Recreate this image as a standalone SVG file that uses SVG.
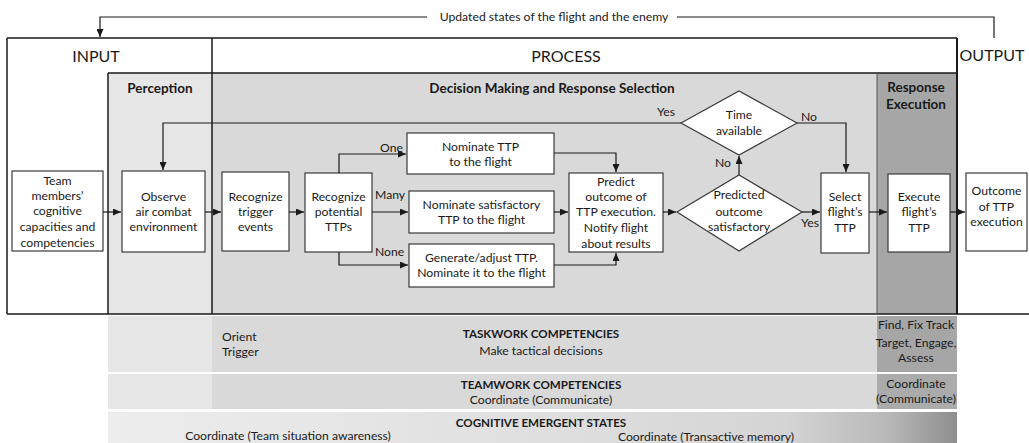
<svg xmlns="http://www.w3.org/2000/svg" width="1029" height="443" viewBox="0 0 1029 443">
<style>
text{font-family:Lato,"Liberation Sans",sans-serif;fill:#1a1a1a}
.t{font-size:12.2px;text-anchor:middle}
.l{font-size:12.2px}
.h{font-size:16px;text-anchor:middle}
.b{font-size:13.5px;font-weight:bold;text-anchor:middle}
.bs{font-size:11.6px;font-weight:bold;text-anchor:middle}
.box{fill:#fff;stroke:#3a3a3a;stroke-width:1.2}
.frame{fill:none;stroke:#1a1a1a;stroke-width:1.5}
.c{fill:none;stroke:#1a1a1a;stroke-width:1.2;marker-end:url(#ah)}
.cn{fill:none;stroke:#1a1a1a;stroke-width:1.2}
</style>
<defs>
<marker id="ah" markerUnits="userSpaceOnUse" markerWidth="8" markerHeight="7" refX="8" refY="3.5" orient="auto">
<path d="M0,0 L8,3.5 L0,7 z" fill="#1a1a1a"/>
</marker>
<linearGradient id="g3" x1="108" y1="0" x2="957" y2="0" gradientUnits="userSpaceOnUse">
<stop offset="0" stop-color="#ededed"/>
<stop offset="0.55" stop-color="#dedede"/>
<stop offset="0.8" stop-color="#d4d4d4"/>
<stop offset="0.92" stop-color="#b8b8b8"/>
<stop offset="1" stop-color="#8e8e8e"/>
</linearGradient>
</defs>

<g id="background">
<rect x="108" y="73" width="104" height="241" fill="#e6e6e6"/>
<rect x="212" y="73" width="665" height="241" fill="#d9d9d9"/>
<rect x="877" y="73" width="80" height="241" fill="#a6a6a6"/>
<path class="frame" d="M7,38 H957 M7,38 V314 M7,314 H1029 M212,38 V314 M108,73 H957 M108,73 V314"/>
<path fill="none" stroke="#1a1a1a" stroke-width="2" d="M957,38 V314"/>
<path fill="none" stroke="#555" stroke-width="1" d="M877,73 V314"/>
<text class="h" x="96" y="62">INPUT</text>
<text class="h" x="566" y="62">PROCESS</text>
<text class="h" x="992" y="61">OUTPUT</text>
<text class="b" x="160" y="93">Perception</text>
<text class="b" x="552" y="93">Decision Making and Response Selection</text>
<text class="b" x="916" y="92">Response</text>
<text class="b" x="916" y="109">Execution</text>
</g>

<g id="bands">
<rect x="108" y="316" width="104" height="56" fill="#e6e6e6"/>
<rect x="212" y="316" width="665" height="56" fill="#d9d9d9"/>
<rect x="877" y="316" width="80" height="56" fill="#a6a6a6"/>
<rect x="108" y="374" width="104" height="35" fill="#e6e6e6"/>
<rect x="212" y="374" width="665" height="35" fill="#d9d9d9"/>
<rect x="877" y="374" width="80" height="35" fill="#ababab"/>
<rect x="108" y="412" width="849" height="31" fill="url(#g3)"/>
<text class="l" x="222" y="341">Orient</text>
<text class="l" x="222" y="356">Trigger</text>
<text class="bs" x="541" y="338">TASKWORK COMPETENCIES</text>
<text class="t" x="541" y="355">Make tactical decisions</text>
<text class="t" x="916" y="329">Find, Fix Track</text>
<text class="t" x="916" y="347">Target, Engage,</text>
<text class="t" x="916" y="362">Assess</text>
<text class="bs" x="541" y="389">TEAMWORK COMPETENCIES</text>
<text class="t" x="541" y="404">Coordinate (Communicate)</text>
<text class="t" x="916" y="388">Coordinate</text>
<text class="t" x="916" y="403">(Communicate)</text>
<text class="bs" x="541" y="427">COGNITIVE EMERGENT STATES</text>
<text class="t" x="288" y="440">Coordinate (Team situation awareness)</text>
<text class="t" x="706" y="441">Coordinate (Transactive memory)</text>
</g>

<g id="n-team">
<rect class="box" x="12" y="171" width="91" height="80"/>
<text class="t" x="57.5" y="185">Team</text>
<text class="t" x="57.5" y="200">members’</text>
<text class="t" x="57.5" y="215">cognitive</text>
<text class="t" x="57.5" y="231">capacities and</text>
<text class="t" x="57.5" y="247">competencies</text>
</g>
<g id="n-observe">
<rect class="box" x="122" y="171" width="83" height="81"/>
<text class="t" x="163.5" y="201">Observe</text>
<text class="t" x="163.5" y="216">air combat</text>
<text class="t" x="163.5" y="231">environment</text>
</g>
<g id="n-trigger">
<rect class="box" x="222" y="172" width="67" height="79"/>
<text class="t" x="255.5" y="201">Recognize</text>
<text class="t" x="255.5" y="216">trigger</text>
<text class="t" x="255.5" y="231">events</text>
</g>
<g id="n-potential">
<rect class="box" x="305" y="173" width="67" height="79"/>
<text class="t" x="338.5" y="201">Recognize</text>
<text class="t" x="338.5" y="216">potential</text>
<text class="t" x="338.5" y="231">TTPs</text>
</g>
<g id="n-nominate">
<rect class="box" x="407" y="133" width="147" height="41"/>
<text class="t" x="480.5" y="151">Nominate TTP</text>
<text class="t" x="480.5" y="166">to the flight</text>
</g>
<g id="n-satisfactory">
<rect class="box" x="409" y="191" width="145" height="42"/>
<text class="t" x="481.5" y="209">Nominate satisfactory</text>
<text class="t" x="481.5" y="224">TTP to the flight</text>
</g>
<g id="n-generate">
<rect class="box" x="409" y="244" width="145" height="43"/>
<text class="t" x="481.5" y="262">Generate/adjust TTP.</text>
<text class="t" x="481.5" y="277">Nominate it to the flight</text>
</g>
<g id="n-predict">
<rect class="box" x="569" y="173" width="94" height="79"/>
<text class="t" x="616" y="186">Predict</text>
<text class="t" x="616" y="201">outcome of</text>
<text class="t" x="616" y="216">TTP execution.</text>
<text class="t" x="616" y="232">Notify flight</text>
<text class="t" x="616" y="248">about results</text>
</g>
<g id="n-satisfied">
<polygon class="box" points="677,212 739,175 802,212 739,251"/>
<text class="t" x="739" y="199">Predicted</text>
<text class="t" x="739" y="216">outcome</text>
<text class="t" x="739" y="231">satisfactory</text>
</g>
<g id="n-time">
<polygon class="box" points="681,123 739,91 797,123 739,155"/>
<text class="t" x="739" y="119">Time</text>
<text class="t" x="739" y="135">available</text>
</g>
<g id="n-select">
<rect class="box" x="821" y="173" width="48" height="80"/>
<text class="t" x="845" y="201">Select</text>
<text class="t" x="845" y="216">flight’s</text>
<text class="t" x="845" y="232">TTP</text>
</g>
<g id="n-execute">
<rect class="box" x="888" y="174" width="62" height="78"/>
<text class="t" x="919" y="201">Execute</text>
<text class="t" x="919" y="216">flight’s</text>
<text class="t" x="919" y="232">TTP</text>
</g>
<g id="n-outcome">
<rect class="box" x="966" y="173" width="61" height="78"/>
<text class="t" x="996.5" y="195">Outcome</text>
<text class="t" x="996.5" y="211">of TTP</text>
<text class="t" x="996.5" y="226">execution</text>
</g>

<g id="connectors">
<path class="c" d="M103,212 H121"/>
<path class="c" d="M205,212 H221"/>
<path class="c" d="M289,212 H304"/>
<path class="c" d="M339,173 V154 H406"/>
<path class="c" d="M372,212 H408"/>
<path class="c" d="M339,252 V265 H408"/>
<path class="c" d="M554,153 H616 V172"/>
<path class="c" d="M554,212 H568"/>
<path class="c" d="M554,265 H616 V253"/>
<path class="c" d="M663,212 H676"/>
<path class="c" d="M739,175 V156"/>
<path class="c" d="M681,123 H163 V170"/>
<path class="c" d="M797,123 H846 V172"/>
<path class="c" d="M802,212 H820"/>
<path class="c" d="M869,212 H887"/>
<path class="c" d="M950,212 H965"/>
<path class="cn" d="M994,38 V17 H677"/>
<path class="c" d="M427,17 H100 V37"/>
<text class="t" x="554" y="21">Updated states of the flight and the enemy</text>
<text class="l" x="380" y="152">One</text>
<text class="l" x="375" y="199">Many</text>
<text class="l" x="375" y="256">None</text>
<text class="t" x="666" y="116">Yes</text>
<text class="t" x="809" y="121">No</text>
<text class="t" x="723" y="167">No</text>
<text class="t" x="810" y="227">Yes</text>
</g>
</svg>
